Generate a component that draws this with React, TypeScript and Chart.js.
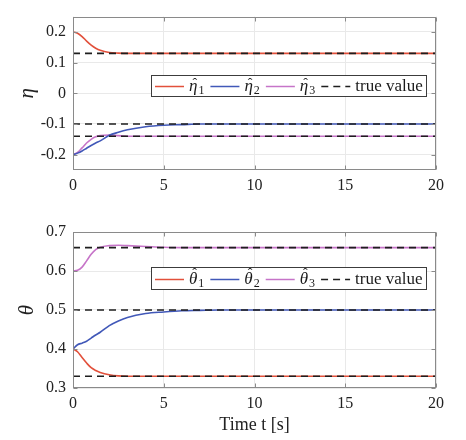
import React, { useEffect, useRef } from 'react';
import { Chart, registerables } from 'chart.js';

Chart.register(...registerables);

const SERIF = '"Liberation Serif", "DejaVu Serif", serif';

// ---- data ----
const TIME = [0, 0.25, 0.5, 0.75, 1, 1.25, 1.5, 2, 2.5, 3, 4, 5, 6, 7, 8, 10, 12, 15, 20];

const ETA1 = [0.2, 0.196, 0.185, 0.17, 0.157, 0.147, 0.14, 0.133, 0.131, 0.13, 0.13, 0.13, 0.13, 0.13, 0.13, 0.13, 0.13, 0.13, 0.13];
const ETA2 = [-0.2, -0.195, -0.188, -0.179, -0.17, -0.162, -0.155, -0.137, -0.127, -0.119, -0.109, -0.104, -0.102, -0.1, -0.1, -0.1, -0.1, -0.1, -0.1];
const ETA3 = [-0.2, -0.193, -0.178, -0.162, -0.15, -0.142, -0.138, -0.136, -0.138, -0.14, -0.14, -0.14, -0.14, -0.14, -0.14, -0.14, -0.14, -0.14, -0.14];
const ETA_TRUE = [0.13, -0.1, -0.14];

const THETA1 = [0.4, 0.393, 0.378, 0.364, 0.352, 0.345, 0.34, 0.334, 0.331, 0.33, 0.33, 0.33, 0.33, 0.33, 0.33, 0.33, 0.33, 0.33, 0.33];
const THETA2 = [0.4, 0.411, 0.415, 0.42, 0.428, 0.436, 0.443, 0.46, 0.472, 0.481, 0.491, 0.495, 0.498, 0.499, 0.5, 0.5, 0.5, 0.5, 0.5];
const THETA3 = [0.6, 0.602, 0.61, 0.626, 0.643, 0.655, 0.661, 0.665, 0.666, 0.665, 0.663, 0.661, 0.66, 0.66, 0.66, 0.66, 0.66, 0.66, 0.66];
const THETA_TRUE = [0.33, 0.5, 0.66];

const X_TICKS = [0, 5, 10, 15, 20];
const ETA_TICKS = [-0.2, -0.1, 0, 0.1, 0.2];
const THETA_TICKS = [0.3, 0.4, 0.5, 0.6, 0.7];

const ETA_LABELS = ['η̂₁', 'η̂₂', 'η̂₃'];
const THETA_LABELS = ['θ̂₁', 'θ̂₂', 'θ̂₃'];
const TRUE_LABEL = 'true value';

const COLORS = ['#E2503B', '#4158B8', '#C674C8'];
const DASH_COLOR = '#1e1e1e';

// ---- plugins ----
const boxPlugin = {
  id: 'matBox',
  afterDatasetsDraw(chart: any) {
    const { ctx, chartArea: a, scales } = chart;
    ctx.save();
    ctx.strokeStyle = '#8a8a8a';
    ctx.lineWidth = 1;
    const L = Math.round(a.left) + 0.5;
    const R = Math.round(a.right) - 0.5;
    const T = Math.round(a.top) + 0.5;
    const B = Math.round(a.bottom) - 0.5;
    ctx.strokeRect(L, T, R - L, B - T);
    const tl = 4;
    ctx.beginPath();
    scales.x.ticks.forEach((t: any) => {
      const px = Math.round(scales.x.getPixelForValue(t.value)) + 0.5;
      ctx.moveTo(px, B); ctx.lineTo(px, B - tl);
      ctx.moveTo(px, T); ctx.lineTo(px, T + tl);
    });
    scales.y.ticks.forEach((t: any) => {
      const py = Math.round(scales.y.getPixelForValue(t.value)) + 0.5;
      ctx.moveTo(L, py); ctx.lineTo(L + tl, py);
      ctx.moveTo(R, py); ctx.lineTo(R - tl, py);
    });
    ctx.stroke();
    ctx.restore();
  },
};

type Item = { kind: 'line' | 'dash'; color: string; base?: string; sub?: string; text?: string; hatDy?: number };

const MAIN_FONT = `17px ${SERIF}`;
const ITAL_FONT = `italic 17px ${SERIF}`;
const SUB_FONT = `12px ${SERIF}`;

function labelWidth(ctx: CanvasRenderingContext2D, it: Item) {
  if (it.kind === 'dash') {
    ctx.font = MAIN_FONT;
    return ctx.measureText(it.text || '').width;
  }
  ctx.font = ITAL_FONT;
  const b = ctx.measureText(it.base || '').width;
  ctx.font = SUB_FONT;
  const s = ctx.measureText(it.sub || '').width;
  return b + 1 + s;
}

const mathLegend = {
  id: 'mathLegend',
  afterDatasetsDraw(chart: any, _args: any, opts: any) {
    const items: Item[] = opts.items;
    if (!items) return;
    const { ctx, chartArea } = chart;
    ctx.save();
    const lineLen = 29, gapLT = 5, gapItem = 6, padL = 4, padR = 4;
    const widths = items.map((it) => labelWidth(ctx, it));
    let total = padL + padR;
    widths.forEach((w, i) => { total += lineLen + gapLT + w + (i < items.length - 1 ? gapItem : 0); });
    const right = Math.round(chartArea.right - opts.right);
    const left = Math.round(right - total);
    const top = Math.round(chartArea.top + opts.top);
    const h = opts.height;
    ctx.fillStyle = '#ffffff';
    ctx.fillRect(left, top, right - left, h);
    ctx.strokeStyle = '#3c3c3c';
    ctx.lineWidth = 1;
    ctx.strokeRect(left + 0.5, top + 0.5, right - left - 1, h - 1);
    const cy = top + h / 2;
    const base = cy + 5;
    let x = left + padL;
    items.forEach((it, i) => {
      ctx.beginPath();
      ctx.strokeStyle = it.color;
      ctx.lineWidth = 1.5;
      ctx.setLineDash(it.kind === 'dash' ? [7, 5] : []);
      ctx.moveTo(x, Math.round(cy) + 0.5);
      ctx.lineTo(x + lineLen, Math.round(cy) + 0.5);
      ctx.stroke();
      ctx.setLineDash([]);
      x += lineLen + gapLT;
      ctx.fillStyle = '#1a1a1a';
      ctx.textBaseline = 'alphabetic';
      ctx.textAlign = 'left';
      if (it.kind === 'dash') {
        ctx.font = MAIN_FONT;
        ctx.fillText(it.text || '', x, base);
      } else {
        ctx.font = ITAL_FONT;
        const bw = ctx.measureText(it.base || '').width;
        ctx.fillText(it.base || '', x, base);
        ctx.font = `14px ${SERIF}`;
        ctx.textAlign = 'center';
        ctx.fillText('ˆ', x + bw / 2 + 1.5, base + (it.hatDy || 0));
        ctx.textAlign = 'left';
        ctx.font = SUB_FONT;
        ctx.fillText(it.sub || '', x + bw + 1, base + 3);
      }
      x += widths[i] + gapItem;
    });
    ctx.restore();
  },
};

// ---- chart panel ----
type PanelProps = {
  top: number;
  height: number;
  padTop: number;
  xAxisHeight: number;
  xTitle?: string;
  yTitle: string;
  yMin: number;
  yMax: number;
  yTicks: number[];
  series: number[][];
  labels: string[];
  truth: number[];
  legendTop: number;
  legendHeight: number;
  greek: string;
  hatDy: number;
};

function Panel(p: PanelProps) {
  const ref = useRef<HTMLCanvasElement>(null);
  useEffect(() => {
    const estimates = p.series.map((vals, i) => ({
      label: p.labels[i],
      data: TIME.map((t, k) => ({ x: t, y: vals[k] })),
      borderColor: COLORS[i],
      backgroundColor: COLORS[i],
      borderWidth: 1.6,
      pointRadius: 0,
      tension: 0.4,
      cubicInterpolationMode: 'monotone' as const,
      fill: false,
      order: 2,
    }));
    const truths = p.truth.map((v) => ({
      label: TRUE_LABEL,
      data: [{ x: X_TICKS[0], y: v }, { x: X_TICKS[X_TICKS.length - 1], y: v }],
      borderColor: DASH_COLOR,
      backgroundColor: DASH_COLOR,
      borderWidth: 1.6,
      borderDash: [7, 5],
      pointRadius: 0,
      fill: false,
      order: 1,
    }));
    const items: Item[] = [
      ...p.labels.map((_, i) => ({ kind: 'line' as const, color: COLORS[i], base: p.greek, sub: String(i + 1), hatDy: p.hatDy })),
      { kind: 'dash' as const, color: DASH_COLOR, text: TRUE_LABEL },
    ];
    const tickFont = { family: SERIF, size: 16 };
    const chart = new Chart(ref.current as HTMLCanvasElement, {
      type: 'line',
      data: { datasets: [...estimates, ...truths] as any },
      options: {
        animation: false,
        responsive: true,
        maintainAspectRatio: false,
        layout: { padding: { top: p.padTop, right: 30, left: 0, bottom: 0 } },
        plugins: {
          legend: { display: false },
          tooltip: { enabled: false },
          mathLegend: { items, right: 9, top: p.legendTop, height: p.legendHeight },
        } as any,
        scales: {
          x: {
            type: 'linear',
            min: X_TICKS[0],
            max: X_TICKS[X_TICKS.length - 1],
            afterBuildTicks: (s: any) => { s.ticks = X_TICKS.map((v) => ({ value: v })); },
            afterFit: (s: any) => { s.height = p.xAxisHeight; },
            ticks: { font: tickFont, color: '#222', padding: 6, maxRotation: 0, callback: (v: any) => String(v) },
            grid: { color: '#e9e9e9', drawTicks: false },
            border: { display: false },
            title: p.xTitle
              ? { display: true, text: p.xTitle, font: { family: SERIF, size: 18 }, color: '#222', padding: { top: 0, bottom: 4 } }
              : { display: false },
          },
          y: {
            type: 'linear',
            min: p.yMin,
            max: p.yMax,
            afterBuildTicks: (s: any) => { s.ticks = p.yTicks.map((v) => ({ value: v })); },
            afterFit: (s: any) => { s.width = 73; },
            ticks: {
              font: tickFont,
              color: '#222',
              padding: 7,
              callback: (v: any) => (Math.abs(v) < 1e-9 ? '0' : Number(v).toFixed(1)),
            },
            grid: { color: '#e9e9e9', drawTicks: false },
            border: { display: false },
            title: { display: true, text: p.yTitle, font: { family: SERIF, size: 21, style: 'italic' }, color: '#222', padding: { top: 15, bottom: 0 } },
          },
        },
      } as any,
      plugins: [boxPlugin, mathLegend],
    });
    return () => chart.destroy();
  }, []);
  return (
    <div style={{ position: 'absolute', left: 0, top: p.top, width: 466, height: p.height }}>
      <canvas ref={ref} />
    </div>
  );
}

export default function App() {
  return (
    <div style={{ position: 'absolute', left: 0, top: 0, width: 466, height: 440, background: '#fff' }}>
      <Panel
        top={0}
        height={200}
        padTop={15}
        xAxisHeight={30}
        yTitle="η"
        yMin={-0.25}
        yMax={0.25}
        yTicks={ETA_TICKS}
        series={[ETA1, ETA2, ETA3]}
        labels={ETA_LABELS}
        truth={ETA_TRUE}
        legendTop={58}
        legendHeight={22}
        greek="η"
        hatDy={-3}
      />
      <Panel
        top={210}
        height={230}
        padTop={22}
        xAxisHeight={52}
        xTitle="Time t [s]"
        yTitle="θ"
        yMin={0.3}
        yMax={0.7}
        yTicks={THETA_TICKS}
        series={[THETA1, THETA2, THETA3]}
        labels={THETA_LABELS}
        truth={THETA_TRUE}
        legendTop={35}
        legendHeight={23}
        greek="θ"
        hatDy={-6}
      />
    </div>
  );
}
